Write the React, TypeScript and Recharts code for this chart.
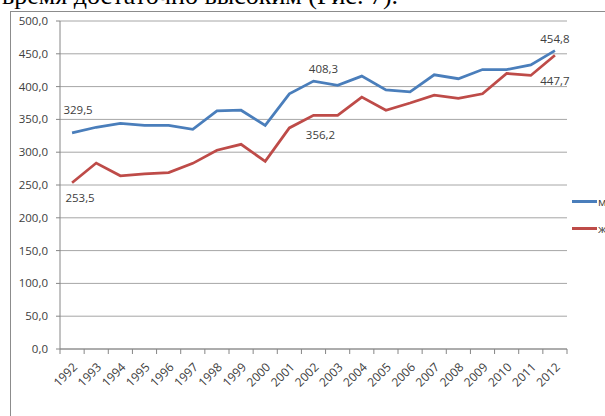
import { LineChart, Line, XAxis, YAxis, CartesianGrid, LabelList } from "recharts";

const years = [
  "1992", "1993", "1994", "1995", "1996", "1997", "1998", "1999", "2000", "2001",
  "2002", "2003", "2004", "2005", "2006", "2007", "2008", "2009", "2010", "2011", "2012",
];
const male = [
  329.5, 338, 344, 341, 341, 335, 363, 364, 341, 389,
  408.3, 402, 416, 395, 392, 418, 412, 426, 426, 433, 454.8,
];
const female = [
  253.5, 283.5, 264, 267, 269, 283, 303, 312, 286, 337,
  356.2, 356, 384, 364, 375, 387, 382, 389, 420, 417, 447.7,
];
const yTicks = [0, 50, 100, 150, 200, 250, 300, 350, 400, 450, 500];

const data = years.map((year, i) => ({ year, m: male[i], f: female[i] }));

const W = 605;
const H = 416;
const PLOT_L = 60;
const PLOT_R = 567;
const BAND = (PLOT_R - PLOT_L) / years.length;
const BLUE = "#4a7ebb";
const RED = "#be4b48";
const AXIS = "#868686";
const FONT = "'Open Sans', sans-serif";

const fmt = (v: number) => v.toFixed(1).replace(".", ",");

// label offsets (dx, dy from point) for the few labelled points
const maleLabels: Record<number, [number, number]> = { 0: [6, -19], 10: [10, -8], 20: [0, -8] };
const femaleLabels: Record<number, [number, number]> = { 0: [8, 19], 10: [7, 24], 20: [0, 30] };

const makeLabel = (offsets: Record<number, [number, number]>) => (props: any) => {
  const { x, y, value, index } = props;
  const off = offsets[index];
  if (!off) return null;
  return (
    <text x={x + off[0]} y={y + off[1]} textAnchor="middle" fontSize={11.5} fontFamily={FONT} fill="#404040">
      {fmt(value)}
    </text>
  );
};

const XTick = (props: any) => {
  const { x, y, payload, index } = props;
  const half = BAND / 2;
  const tx = x + 6;
  const ty = y + 19;
  return (
    <g>
      <line x1={x - half} y1={y} x2={x - half} y2={y + 5} stroke={AXIS} />
      {index === years.length - 1 && <line x1={x + half} y1={y} x2={x + half} y2={y + 5} stroke={AXIS} />}
      <text
        x={tx}
        y={ty}
        textAnchor="end"
        fontSize={12}
        fontFamily={FONT}
        fill="#404040"
        transform={`rotate(-45, ${tx}, ${ty})`}
      >
        {payload.value}
      </text>
    </g>
  );
};

export default function App() {
  return (
    <div style={{ position: "fixed", left: 0, top: 0, width: W, height: H, overflow: "hidden", background: "#fff" }}>
      <div
        style={{
          position: "absolute",
          left: 2,
          top: -17,
          fontFamily: "'Liberation Serif', serif",
          fontSize: 26,
          lineHeight: "26px",
          whiteSpace: "nowrap",
          color: "#000",
        }}
      >
        время достаточно высоким (Рис. 7).
      </div>
      <div style={{ position: "absolute", left: 10, top: 11, width: 700, height: 500, border: "1px solid #8c8c8c" }} />
      <div style={{ position: "absolute", left: 0, top: 0 }}>
        <LineChart width={W} height={H} data={data} margin={{ top: 21, right: W - PLOT_R, bottom: 7, left: 10 }}>
          <CartesianGrid vertical={false} stroke="#a6a6a6" />
          <XAxis
            dataKey="year"
            interval={0}
            padding={{ left: BAND / 2, right: BAND / 2 }}
            axisLine={{ stroke: AXIS }}
            tickLine={false}
            tickSize={0}
            tickMargin={0}
            height={60}
            tick={<XTick />}
          />
          <YAxis
            width={50}
            domain={[0, 500]}
            ticks={yTicks}
            interval={0}
            tickFormatter={fmt}
            axisLine={{ stroke: AXIS }}
            tickLine={{ stroke: AXIS }}
            tickSize={4}
            tickMargin={8}
            tick={{ fontSize: 11.5, fontFamily: FONT, fill: "#404040" }}
          />
          <Line dataKey="m" stroke={BLUE} strokeWidth={2.75} dot={false} isAnimationActive={false}>
            <LabelList dataKey="m" content={makeLabel(maleLabels)} />
          </Line>
          <Line dataKey="f" stroke={RED} strokeWidth={2.75} dot={false} isAnimationActive={false}>
            <LabelList dataKey="f" content={makeLabel(femaleLabels)} />
          </Line>
        </LineChart>
      </div>
      {[
        { name: "м", color: BLUE, y: 201 },
        { name: "ж", color: RED, y: 228 },
      ].map((s) => (
        <div key={s.name} style={{ position: "absolute", left: 572, top: s.y - 8, height: 16, display: "flex", alignItems: "center" }}>
          <span style={{ display: "inline-block", width: 25, height: 3, background: s.color }} />
          <span style={{ fontFamily: FONT, fontSize: 11.5, color: "#404040", marginLeft: 1 }}>{s.name}</span>
        </div>
      ))}
    </div>
  );
}
